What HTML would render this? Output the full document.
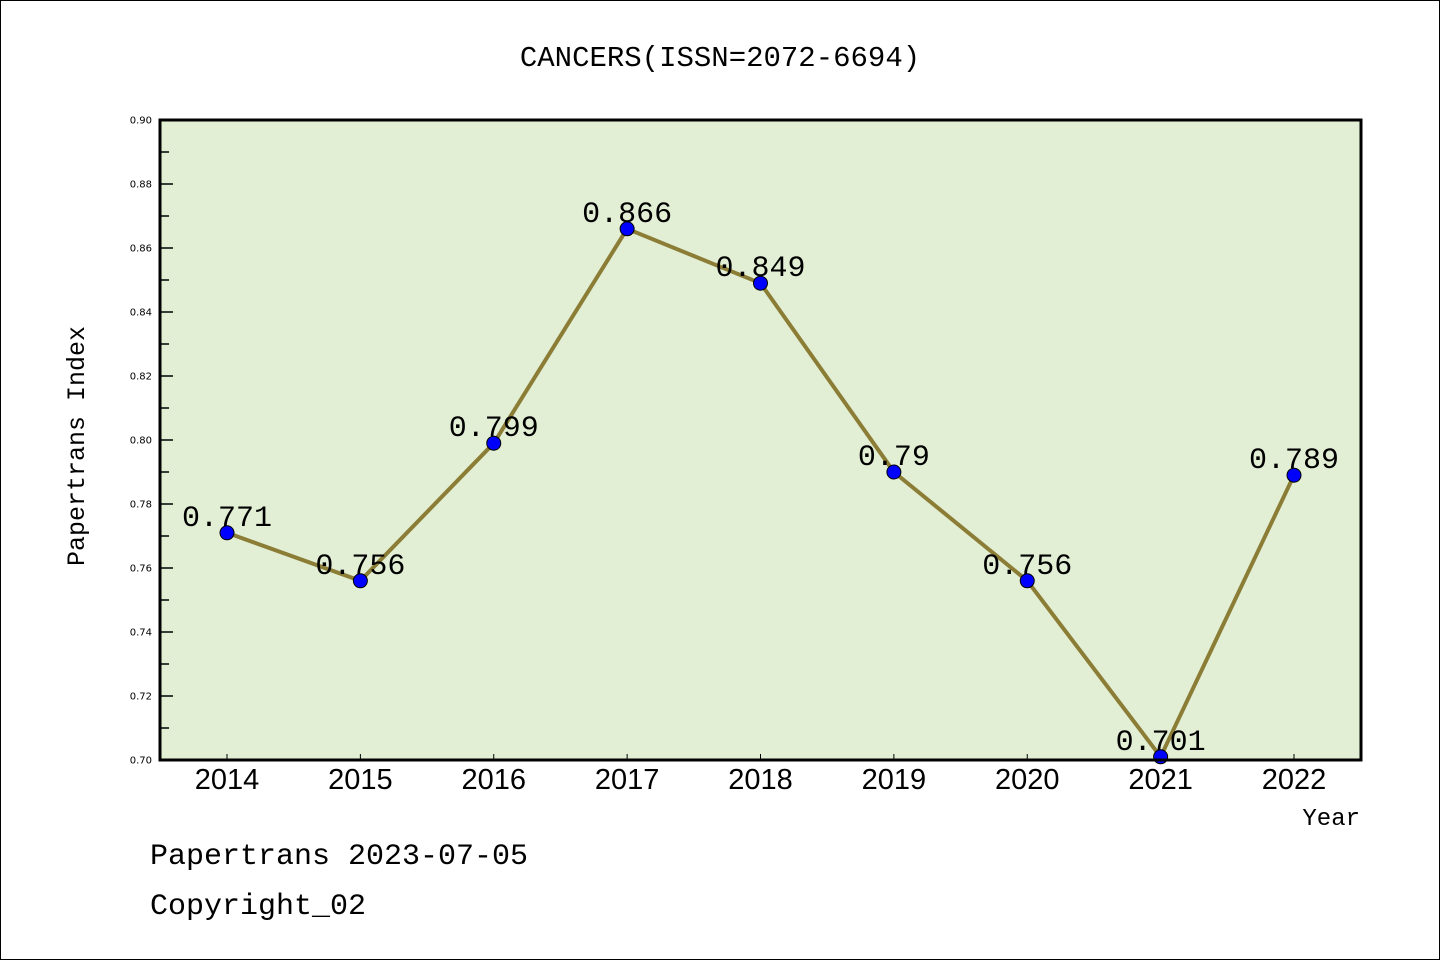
<!DOCTYPE html>
<html><head><meta charset="utf-8"><style>
body{margin:0;background:#fff}
svg{display:block}
.cjk{font-family:"Liberation Mono","WenQuanYi Zen Hei",monospace}
</style></head><body>
<svg width="1440" height="960" xmlns="http://www.w3.org/2000/svg">
<rect x="0.5" y="0.5" width="1439" height="959" fill="#fff" stroke="#000"/>
<text class="cjk" x="720" y="66" font-size="29" text-anchor="middle">CANCERS(ISSN=2072-6694)</text>
<rect x="160" y="120" width="1201" height="640" fill="#e2efd5"/>
<g id="axes"></g>
<g id="series"></g>
<rect x="160" y="120" width="1201" height="640" fill="none" stroke="#000" stroke-width="3"/>
<text class="cjk" x="84" y="446" font-size="25" text-anchor="middle" transform="rotate(-90 84 446)">Papertrans Index</text>
<text class="cjk" x="1360" y="825" font-size="24" text-anchor="end">Year</text>
<text class="cjk" x="150" y="864" font-size="30">Papertrans 2023-07-05</text>
<text class="cjk" x="150" y="914" font-size="30">Copyright_02</text>
</svg>
<script>
const years=["2014","2015","2016","2017","2018","2019","2020","2021","2022"];
const values=[0.771,0.756,0.799,0.866,0.849,0.79,0.756,0.701,0.789];
const valueLabels=["0.771","0.756","0.799","0.866","0.849","0.79","0.756","0.701","0.789"];
const yTicks=[0.70,0.72,0.74,0.76,0.78,0.80,0.82,0.84,0.86,0.88,0.90];
const NS="http://www.w3.org/2000/svg";
const yMin=0.70,yMax=0.90,plotTop=120,plotBot=760;
function ys(v){return plotBot-(v-yMin)/(yMax-yMin)*(plotBot-plotTop);}
function xs(i){return 227+i*(1294-227)/(years.length-1);}
function mk(t,a,p){const e=document.createElementNS(NS,t);for(const k in a)e.setAttribute(k,a[k]);p.appendChild(e);return e;}
const ax=document.getElementById('axes'),se=document.getElementById('series');
yTicks.forEach((v,i)=>{
 const l=mk('line',{x1:160,x2:173,y1:ys(v),y2:ys(v),stroke:'#000','stroke-width':1.5},ax);
 
 
 const t=mk('text',{x:152,y:ys(v)+3.5,'font-size':10,'text-anchor':'end','font-family':'DejaVu Sans, sans-serif'},ax);
 t.textContent=v.toFixed(2);
 
 
 if(i<yTicks.length-1){
  const m=mk('line',{x1:160,x2:169,y1:ys(v+0.01),y2:ys(v+0.01),stroke:'#000','stroke-width':1.5},ax);
  
  
 }
});
years.forEach((y,i)=>{
 const l=mk('line',{x1:xs(i),x2:xs(i),y1:760,y2:754,stroke:'#000','stroke-width':1},ax);
 
 
 const t=mk('text',{x:xs(i),y:789,'font-size':29,'text-anchor':'middle','font-family':'Liberation Sans, sans-serif'},ax);
 t.textContent=y;
 
 
});
const pl=mk('polyline',{points:values.map((v,i)=>xs(i)+','+ys(v)).join(' '),fill:'none',stroke:'#8b7d35','stroke-width':4},se);


values.forEach((v,i)=>{
 const c=mk('circle',{cx:xs(i),cy:ys(v),r:7,fill:'#0000ff',stroke:'#000','stroke-width':1},se);
 
 
 const t=mk('text',{x:xs(i),y:ys(v)-7,'font-size':30,'text-anchor':'middle',class:'cjk'},se);
 t.textContent=valueLabels[i];
 
 
});
</script>
</body></html>
